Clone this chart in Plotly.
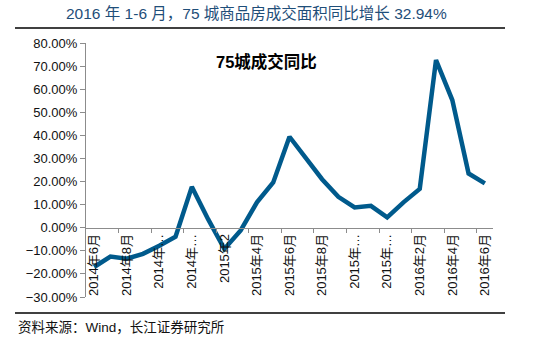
import plotly.graph_objects as go

# ---- data ----
months = ["2014年6月", "2014年7月", "2014年8月", "2014年9月", "2014年10月", "2014年11月",
          "2014年12月", "2015年1月", "2015年2月", "2015年3月", "2015年4月", "2015年5月",
          "2015年6月", "2015年7月", "2015年8月", "2015年9月", "2015年10月", "2015年11月",
          "2015年12月", "2016年1月", "2016年2月", "2016年3月", "2016年4月", "2016年5月",
          "2016年6月"]
yoy = [-17.0, -12.5, -13.4, -11.3, -7.8, -3.9, 17.7, 3.7, -9.2, -1.2, 11.0, 19.6,
       39.4, 30.4, 21.0, 13.4, 8.8, 9.5, 4.5, 11.0, 16.8, 72.6, 55.3, 23.5, 19.2]
# tick labels as displayed (every second month, some truncated in the original)
tick_labels = ["2014年6月", "2014年8月", "2014年…", "2014年…", "2015年2", "2015年4月",
               "2015年6月", "2015年8月", "2015年…", "2015年…", "2016年2月", "2016年4月",
               "2016年6月"]
y_min, y_max = -30, 80

# ---- layout geometry (pixels) ----
W, H = 534, 340
L, R, T, B = 86, 493, 43, 297
pw, ph = R - L, B - T
def px(x): return (x - L) / pw
def py(y): return (B - y) / ph

idx = list(range(len(months)))
font_fam = "Liberation Sans, Arial, Noto Sans CJK SC, sans-serif"
cjk_fam = "Liberation Sans, Noto Sans CJK SC, sans-serif"

fig = go.Figure()
fig.add_trace(go.Scatter(x=idx, y=yoy, mode="lines",
                         line=dict(color="#005A8C", width=4.5),
                         text=months, hoverinfo="text+y", showlegend=False))
fig.add_trace(go.Scatter(x=[], y=[], xaxis="x2", showlegend=False, hoverinfo="skip"))

zero_pos = (0 - y_min) / (y_max - y_min)
label_vals = idx[::2]
boundary_vals = [i + 1.5 for i in idx[::2][:-1]]

fig.update_layout(
    width=W, height=H,
    margin=dict(l=L, r=W - R, t=T, b=H - B),
    paper_bgcolor="white", plot_bgcolor="white",
    font=dict(family=font_fam, size=13, color="#111"),
    xaxis=dict(range=[-0.5, len(months) - 0.5], anchor="free", position=zero_pos,
               tickmode="array", tickvals=label_vals, ticktext=tick_labels,
               tickangle=-90, ticks="", showline=True, linecolor="#8c8c8c",
               linewidth=1, showgrid=False, zeroline=False,
               tickfont=dict(family=cjk_fam, size=13, color="#111")),
    xaxis2=dict(range=[-0.5, len(months) - 0.5], overlaying="x", anchor="free",
                position=zero_pos, tickmode="array", tickvals=boundary_vals,
                ticks="outside", ticklen=4, tickcolor="#8c8c8c",
                showticklabels=False, showline=False, showgrid=False, zeroline=False),
    yaxis=dict(range=[y_min, y_max], dtick=10, tick0=0, tickformat=".2f",
               ticksuffix="%", ticks="outside", ticklen=5, tickcolor="#8c8c8c",
               showline=True, linecolor="#8c8c8c", linewidth=1,
               showgrid=False, zeroline=False,
               tickfont=dict(size=13, color="#111")),
    shapes=[
        dict(type="line", xref="paper", yref="paper", x0=px(15), x1=px(505),
             y0=py(28), y1=py(28), line=dict(color="black", width=1.5)),
        dict(type="line", xref="paper", yref="paper", x0=px(15), x1=px(505),
             y0=py(313), y1=py(313), line=dict(color="black", width=1.5)),
    ],
    annotations=[
        dict(text="2016 年 1-6 月，75 城商品房成交面积同比增长 32.94%",
             xref="paper", yref="paper", x=px(256), y=py(14),
             xanchor="center", yanchor="middle", showarrow=False,
             font=dict(family=cjk_fam, size=15.5, color="#1F4E79")),
        dict(text="<b>75城成交同比</b>", xref="paper", yref="paper",
             x=px(266), y=py(62), xanchor="center", yanchor="middle",
             showarrow=False, font=dict(family=cjk_fam, size=16.5, color="black")),
        dict(text="资料来源：Wind，长江证券研究所", xref="paper", yref="paper",
             x=px(16), y=py(327), xanchor="left", yanchor="middle",
             showarrow=False, font=dict(family=cjk_fam, size=13.5, color="#111")),
    ],
)

fig.write_html("out.html")
